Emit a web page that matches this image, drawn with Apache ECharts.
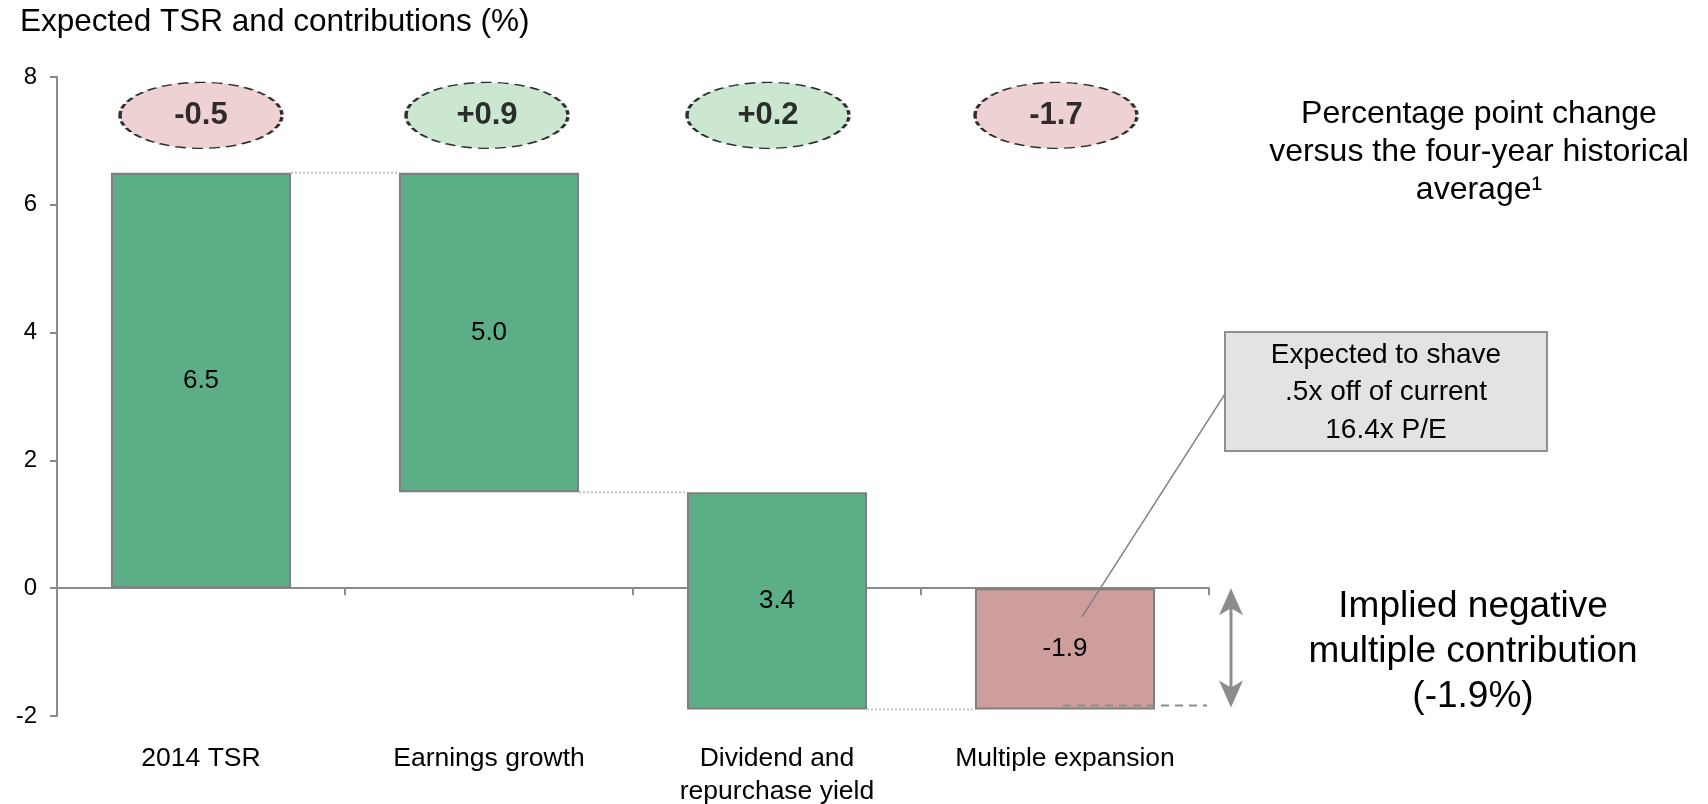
<!DOCTYPE html>
<html>
<head>
<meta charset="utf-8">
<script src="https://cdn.jsdelivr.net/npm/echarts@6/dist/echarts.min.js"></script>
<style>
  html, body { margin: 0; padding: 0; background: #ffffff; }
  #chart { width: 1708px; height: 804px; }
</style>
</head>
<body>
<div id="chart"></div>
<script>
// Waterfall: 2014 total shareholder return split into its drivers
const categories = ['2014 TSR', 'Earnings growth', 'Dividend and\nrepurchase yield', 'Multiple expansion'];
const contributions = [6.5, 5.0, 3.4, -1.9];          // % contribution of each bar
const changesVsAverage = [-0.5, 0.9, 0.2, -1.7];      // pp change vs four-year historical average
const yTickValues = [-2, 0, 2, 4, 6, 8];

const FONT = '"Liberation Sans", Arial, Helvetica, sans-serif';
const BAR_RATIO = 0.625;
const BADGE_LEVEL = 7.4;
const BADGE_NUDGE_X = [0, -2, -9, -9];   // small horizontal shifts of the badges, px
const GREEN = '#5BAE85';
const PINK = '#CD9E9B';

// Floating bar starts and connector levels of the waterfall
const bases = [0];
const connectorLevels = [contributions[0]];
let cursor = contributions[0];
for (let i = 1; i < contributions.length; i++) {
  const start = cursor - contributions[i];
  bases.push(start);
  cursor = start;
  if (i < contributions.length - 1) connectorLevels.push(cursor);
}

const fmtSigned = v => (v > 0 ? '+' : '') + v.toFixed(1);

const chart = echarts.init(document.getElementById('chart'), null, { renderer: 'canvas' });

chart.setOption({
  animation: false,
  backgroundColor: '#ffffff',
  textStyle: { fontFamily: FONT },
  grid: { left: 57, right: 499, top: 77, bottom: 88, containLabel: false, outerBoundsMode: 'none' },
  xAxis: {
    type: 'category',
    data: categories,
    axisLine: { onZero: true, lineStyle: { color: '#8a8a8a', width: 2 } },
    axisTick: { show: true, length: 7, lineStyle: { color: '#8a8a8a', width: 2 } },
    axisLabel: {
      margin: 26, fontSize: 26.5, lineHeight: 33, color: '#000', fontFamily: FONT,
      interval: 0, verticalAlign: 'top'
    },
    splitLine: { show: false }
  },
  yAxis: {
    type: 'value',
    min: yTickValues[0],
    max: yTickValues[yTickValues.length - 1],
    interval: 2,
    axisLine: { show: true, lineStyle: { color: '#8a8a8a', width: 2 } },
    axisTick: { show: true, length: 7, lineStyle: { color: '#8a8a8a', width: 2 } },
    axisLabel: { margin: 20, fontSize: 24, color: '#000', fontFamily: FONT },
    splitLine: { show: false }
  },
  series: [
    {
      name: 'base',
      type: 'bar',
      stack: 'waterfall',
      stackStrategy: 'all',
      barWidth: (BAR_RATIO * 100) + '%',
      silent: true,
      itemStyle: { color: 'rgba(0,0,0,0)', borderWidth: 0 },
      data: bases
    },
    {
      name: 'contribution',
      type: 'bar',
      stack: 'waterfall',
      stackStrategy: 'all',
      barWidth: (BAR_RATIO * 100) + '%',
      silent: true,
      itemStyle: { borderColor: '#7f7f7f', borderWidth: 2 },
      label: {
        show: true, position: 'inside', fontSize: 26, color: '#000', fontFamily: FONT,
        formatter: p => Number(p.value).toFixed(1)
      },
      data: contributions.map((v, i) => ({
        value: v,
        itemStyle: { color: i === contributions.length - 1 ? PINK : GREEN }
      }))
    },
    {
      name: 'connectors',
      type: 'custom',
      silent: true,
      z: 1,
      data: connectorLevels.map((lvl, i) => [i, lvl]),
      renderItem: (params, api) => {
        const i = api.value(0);
        const lvl = api.value(1);
        const a = api.coord([i, lvl]);
        const b = api.coord([i + 1, lvl]);
        const half = api.size([1, 0])[0] * BAR_RATIO / 2;
        return {
          type: 'line',
          shape: { x1: a[0] + half, y1: a[1], x2: b[0] - half, y2: b[1] },
          style: { stroke: '#c4c4c4', lineWidth: 2, lineDash: [2, 2] }
        };
      }
    },
    {
      name: 'change vs average',
      type: 'scatter',
      silent: true,
      z: 5,
      symbol: 'path://M0,50A50,50,0,1,1,100,50A50,50,0,1,1,0,50Z',
      symbolSize: [162, 66],
      itemStyle: { borderColor: '#000', borderWidth: 2.2, borderType: [7, 4] },
      label: {
        show: true, position: 'inside', fontSize: 31, fontWeight: 'bold', color: '#000', fontFamily: FONT,
        formatter: p => fmtSigned(p.value[2])
      },
      data: changesVsAverage.map((v, i) => ({
        value: [i, BADGE_LEVEL, v],
        symbolOffset: [BADGE_NUDGE_X[i], 0],
        itemStyle: { color: v < 0 ? '#E8C6C8' : '#BEE0C6' }
      }))
    }
  ]
});

// Annotations placed relative to the axes
const last = contributions.length - 1;
const px = v => chart.convertToPixel({ xAxisIndex: 0, yAxisIndex: 0 }, v);
const zeroPt = px([last, 0]);
const lowPt = px([last, contributions[last]]);
const leaderEnd = px([last, -0.45]);
const gridRect = chart.getModel().getComponent('grid').coordinateSystem.getRect();
const rightX = gridRect.x + gridRect.width;
const arrowX = rightX + 22;
const arrowTop = zeroPt[1];
const arrowBot = lowPt[1] - 2;

const textStyleBase = { fill: '#000', fontFamily: FONT };
const BOX = { x: 1225, y: 332, width: 322, height: 119 };

chart.setOption({
  graphic: [
    {
      type: 'text', x: 20, y: 22, z: 100,
      style: Object.assign({ text: 'Expected TSR and contributions (%)', fontSize: 31.5, verticalAlign: 'middle' }, textStyleBase)
    },
    {
      type: 'text', x: 1479, y: 152, z: 100,
      style: Object.assign({
        text: 'Percentage point change\nversus the four-year historical\naverage\u00B9',
        fontSize: 32, lineHeight: 38, align: 'center', verticalAlign: 'middle'
      }, textStyleBase)
    },
    {
      type: 'rect', z: 100,
      shape: BOX,
      style: { fill: '#e3e3e3', stroke: '#8f8f8f', lineWidth: 2 }
    },
    {
      type: 'text', x: BOX.x + BOX.width / 2, y: BOX.y + BOX.height / 2 + 1, z: 101,
      style: Object.assign({
        text: 'Expected to shave\n.5x off of current\n16.4x P/E',
        fontSize: 28, lineHeight: 37.5, align: 'center', verticalAlign: 'middle'
      }, textStyleBase)
    },
    {
      type: 'line', z: 100,
      shape: { x1: BOX.x, y1: BOX.y + BOX.height * 0.52, x2: leaderEnd[0] + 17, y2: leaderEnd[1] },
      style: { stroke: '#808080', lineWidth: 1.5 }
    },
    {
      type: 'line', z: 100,
      shape: { x1: lowPt[0] - 2, y1: lowPt[1] - 4, x2: rightX - 2, y2: lowPt[1] - 4 },
      style: { stroke: '#8c8c8c', lineWidth: 2, lineDash: [8, 6] }
    },
    {
      type: 'line', z: 100,
      shape: { x1: arrowX, y1: arrowTop + 16, x2: arrowX, y2: arrowBot - 16 },
      style: { stroke: '#8c8c8c', lineWidth: 3 }
    },
    {
      type: 'polygon', z: 100,
      shape: { points: [[arrowX, arrowTop], [arrowX + 12, arrowTop + 27], [arrowX, arrowTop + 20], [arrowX - 12, arrowTop + 27]] },
      style: { fill: '#8c8c8c' }
    },
    {
      type: 'polygon', z: 100,
      shape: { points: [[arrowX, arrowBot], [arrowX + 12, arrowBot - 27], [arrowX, arrowBot - 20], [arrowX - 12, arrowBot - 27]] },
      style: { fill: '#8c8c8c' }
    },
    {
      type: 'text', x: 1473, y: 652, z: 100,
      style: Object.assign({
        text: 'Implied negative\nmultiple contribution\n(-1.9%)',
        fontSize: 37, lineHeight: 45, align: 'center', verticalAlign: 'middle'
      }, textStyleBase)
    }
  ]
});
</script>
</body>
</html>
